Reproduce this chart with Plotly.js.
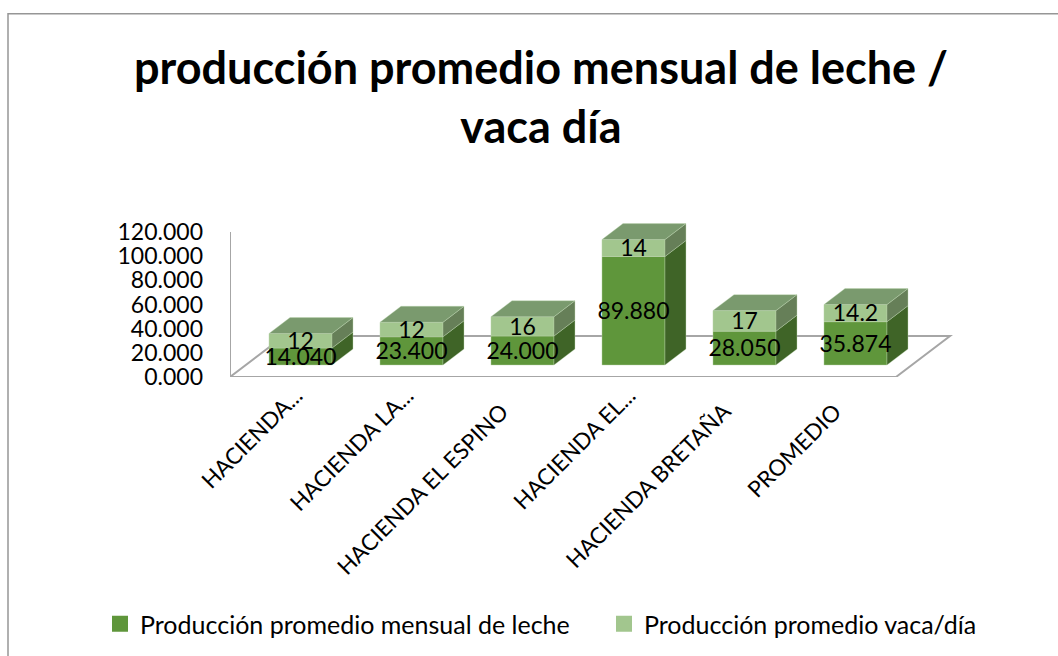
<!DOCTYPE html>
<html><head><meta charset="utf-8">
<script src="https://cdn.plot.ly/plotly-3.0.1.min.js"></script>
<style>html,body{margin:0;padding:0;background:#fff}</style>
</head><body><div id="chart" style="width:1058px;height:656px"></div>
<script>
const categories = ["HACIENDA...", "HACIENDA LA...", "HACIENDA EL ESPINO", "HACIENDA EL...", "HACIENDA BRETAÑA", "PROMEDIO"];
const produccionMensual = [14.04, 23.4, 24, 89.88, 28.05, 35.874];
const produccionVacaDia = [12, 12, 16, 14, 17, 14.2];
const labelsMensual = ["14.040", "23.400", "24.000", "89.880", "28.050", "35.874"];
const labelsVaca = ["12", "12", "16", "14", "17", "14.2"];
const nameMensual = "Producción promedio mensual de leche";
const nameVaca = "Producción promedio vaca/día";
const titleText = "producción promedio mensual de leche /<br>vaca día";
const yTicks = [0, 20, 40, 60, 80, 100, 120];

// 3D-look projection, in axis units
const W = 1058, H = 656;
const unitPx = 145 / 120, yTop = 135;
const mL = 230, mR = 98, mB = 279, mT = H - mB - yTop * unitPx;
const pitchPx = 111;
const xMax = (W - mL - mR) / pitchPx;
const barW = 63 / pitchPx, barShift = 0.635;
const dX = 21 / pitchPx, dY = 16 / unitPx;
const lift = 12 / unitPx;
const labelNudge = 2.5 / unitPx;
const floorX = 54 / pitchPx, floorY = 41 / unitPx;
const axisGrey = "#a6a6a6", frameLine = "#969696";
const colorMensual = "#5f963b", colorVaca = "#a2c68e";

const xc = categories.map((_, i) => i + barShift);
const top1 = produccionMensual.map(v => lift + v);
const top2 = top1.map((v, i) => v + produccionVacaDia[i]);

function poly(fn) {
  const xs = [], ys = [];
  xc.forEach((c, i) => {
    const p = fn(c + barW / 2, i);
    p.forEach(q => { xs.push(q[0]); ys.push(q[1]); });
    xs.push(null); ys.push(null);
  });
  return {x: xs, y: ys};
}
const sideLow = poly((r, i) => [[r, lift], [r + dX, lift + dY], [r + dX, top1[i] + dY], [r, top1[i]], [r, lift]]);
const sideUp = poly((r, i) => [[r, top1[i]], [r + dX, top1[i] + dY], [r + dX, top2[i] + dY], [r, top2[i]], [r, top1[i]]]);
const topFace = poly((r, i) => [[r, top2[i]], [r + dX, top2[i] + dY], [r + dX - barW, top2[i] + dY], [r - barW, top2[i]], [r, top2[i]]]);

function face(p, color) {
  return {type: "scatter", mode: "lines", x: p.x, y: p.y, fill: "toself", fillcolor: color,
    line: {color: "rgba(190,215,175,0.55)", width: 0.7}, showlegend: false, hoverinfo: "skip", cliponaxis: false};
}
const edge = {color: "rgba(190,215,175,0.6)", width: 0.7};
const labelFont = {family: "Lato", size: 23, color: "#000"};
const traces = [
  {type: "bar", x: xc, y: produccionMensual, base: xc.map(() => lift), width: barW,
   marker: {color: colorMensual, line: edge}, cliponaxis: false, showlegend: false},
  {type: "bar", x: xc, y: produccionVacaDia, base: top1, width: barW,
   marker: {color: colorVaca, line: edge}, cliponaxis: false, showlegend: false},
  face(sideLow, "#3f6427"),
  face(sideUp, "#667f58"),
  face(topFace, "#7a9a6e"),
  {type: "scatter", mode: "text", x: xc, y: produccionMensual.map(v => lift + v / 2 - labelNudge), text: labelsMensual,
   textposition: "middle center", textfont: labelFont, showlegend: false, hoverinfo: "skip", cliponaxis: false},
  {type: "scatter", mode: "text", x: xc, y: produccionVacaDia.map((v, i) => top1[i] + v / 2 - labelNudge), text: labelsVaca,
   textposition: "middle center", textfont: labelFont, showlegend: false, hoverinfo: "skip", cliponaxis: false},
  {type: "scatter", mode: "markers", name: nameMensual, x: [null], y: [null], legend: "legend", showlegend: true,
   marker: {symbol: "square", size: 16, color: colorMensual}},
  {type: "scatter", mode: "markers", name: nameVaca, x: [null], y: [null], legend: "legend2", showlegend: true,
   marker: {symbol: "square", size: 16, color: colorVaca}}
];
const px = x => (x - mL) / (W - mL - mR), py = y => (H - mB - y) / (H - mT - mB);
const pad = "\u00a0\u00a0\u00a0\u00a0";
const legendBase = {orientation: "h", xref: "container", xanchor: "left", yref: "container", y: 1 - 624 / H, yanchor: "middle",
  font: {family: "Lato", size: 25, color: "#000"}, itemwidth: 30, bgcolor: "rgba(0,0,0,0)"};
const layout = {
  width: W, height: H, paper_bgcolor: "#fff", plot_bgcolor: "rgba(0,0,0,0)",
  margin: {l: mL, r: mR, t: mT, b: mB, pad: 0},
  barmode: "overlay", bargap: 0,
  font: {family: "Lato", color: "#000"},
  title: {text: titleText, x: 541 / W, xanchor: "center", y: 1 - 84 / H, yanchor: "middle",
          yref: "container", font: {family: "Lato", size: 45, weight: 700, color: "#000"}},
  xaxis: {range: [0, xMax], tickmode: "array", tickvals: xc.map(v => v - 0.04),
          ticktext: categories.map(c => c.endsWith("...") ? c : c + pad), tickangle: -45,
          showgrid: false, zeroline: false, showline: false, ticks: "", ticklabelstandoff: 0,
          tickfont: {family: "Lato", size: 22.5, color: "#000"}, automargin: false},
  yaxis: {range: [0, yTop], tickmode: "array", tickvals: yTicks, tickformat: ".3f", showgrid: false, zeroline: false,
          showline: false, ticks: "", ticklabelstandoff: 26,
          tickfont: {family: "Lato", size: 23, color: "#000"}, automargin: false},
  legend: Object.assign({}, legendBase, {x: 100 / W}),
  legend2: Object.assign({}, legendBase, {x: 604 / W}),
  shapes: [
    {type: "path", layer: "below", xref: "x", yref: "y",
     path: `M0,120 L0,0 L6,0 L${6 + floorX},${floorY} L${floorX},${floorY} L0,0`, line: {color: axisGrey, width: 2}},
    {type: "path", layer: "below", xref: "paper", yref: "paper",
     path: `M${px(8)},${py(H + 5)} L${px(8)},${py(13.5)} L${px(W + 5)},${py(13.5)}`,
     line: {color: frameLine, width: 1.5}}
  ],
  showlegend: true
};
Plotly.newPlot("chart", traces, layout, {displayModeBar: false, staticPlot: true});
</script></body></html>
